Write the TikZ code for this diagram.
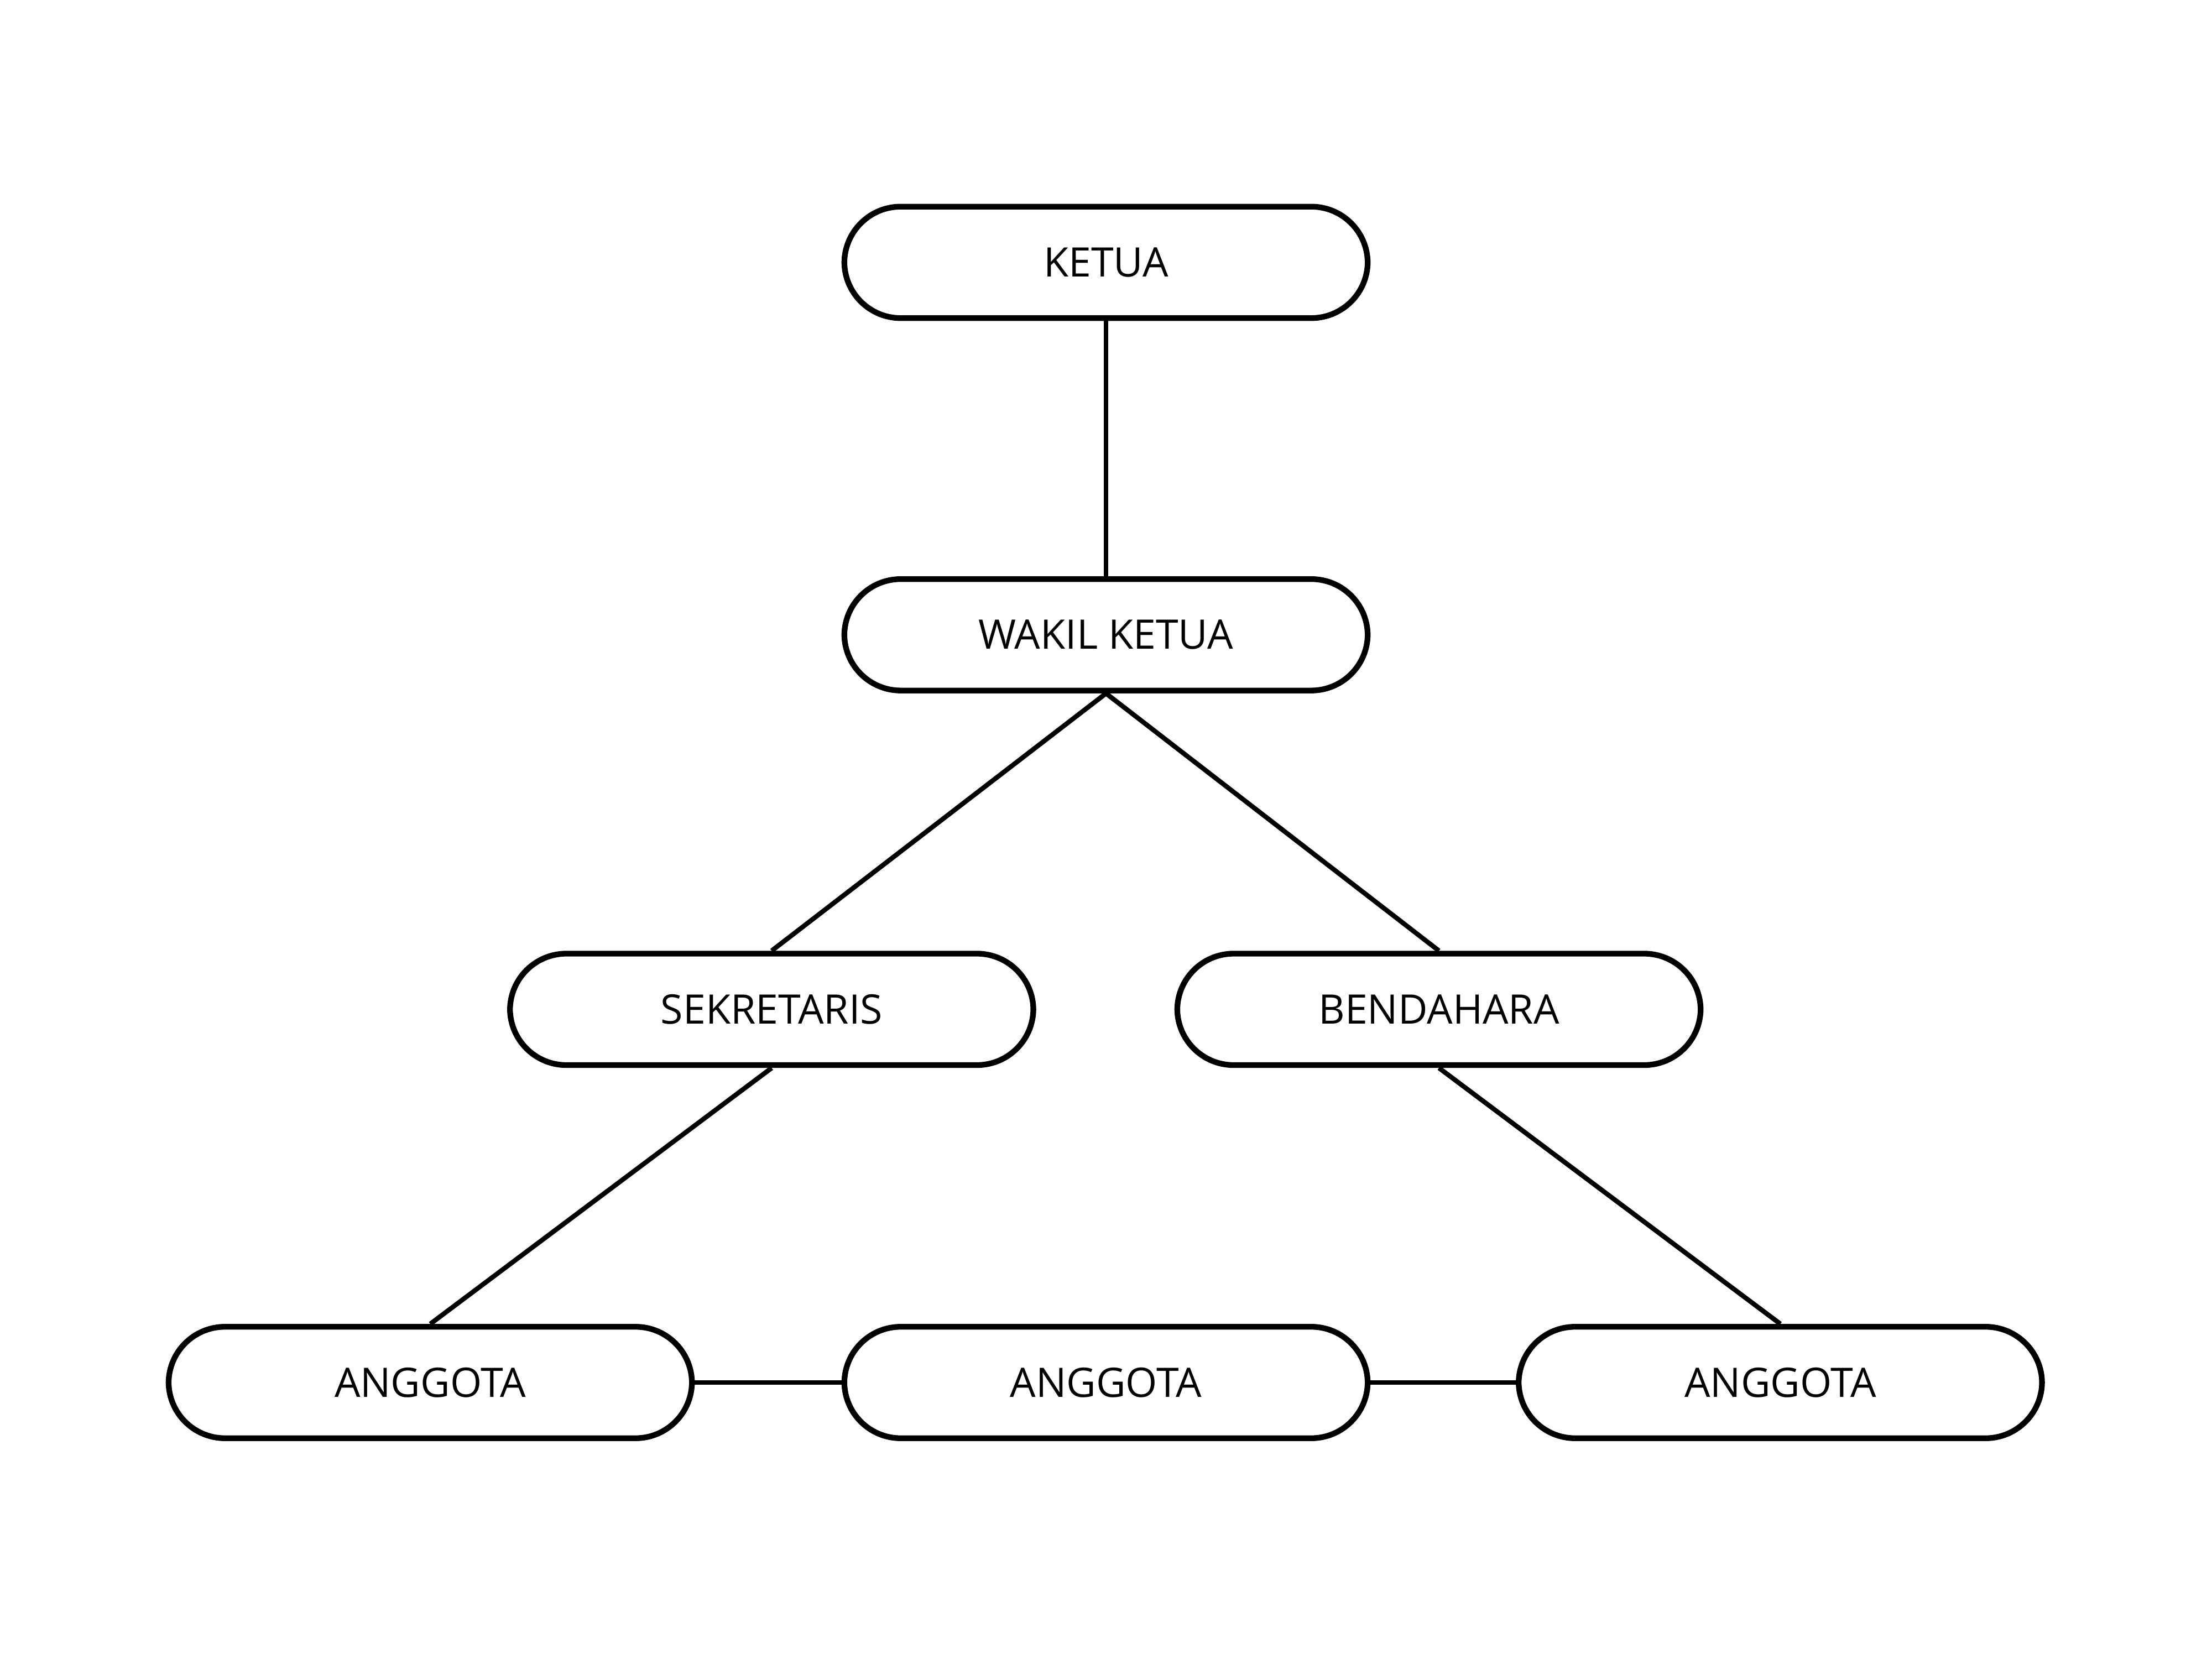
\documentclass[tikz,border=0pt]{standalone}
\usepackage{fontspec}
\setmainfont{Open Sans}
\begin{document}
\begin{tikzpicture}[
  box/.style={draw=black, line width=1.15pt, fill=white, rounded corners=0.40cm,
    minimum width=3.71cm, minimum height=0.79cm, inner sep=0pt,
    font=\fontsize{8.2pt}{10pt}\selectfont},
  link/.style={draw=black, line width=0.95pt}
]
\useasboundingbox (0,0) rectangle (15.68,-11.76);
\node[box] (ketua) at (7.84,-1.86) {KETUA};
\node[box] (wakil) at (7.84,-4.50) {WAKIL KETUA};
\node[box] (sek) at (5.47,-7.155) {SEKRETARIS};
\node[box] (ben) at (10.20,-7.155) {BENDAHARA};
\node[box] (a1) at (3.05,-9.80) {ANGGOTA};
\node[box] (a2) at (7.84,-9.80) {ANGGOTA};
\node[box] (a3) at (12.62,-9.80) {ANGGOTA};
\draw[link] (ketua.south) -- (wakil.north);
\draw[link] (wakil.south) -- (sek.north);
\draw[link] (wakil.south) -- (ben.north);
\draw[link] (sek.south) -- (a1.north);
\draw[link] (ben.south) -- (a3.north);
\draw[link] (a1.east) -- (a2.west);
\draw[link] (a2.east) -- (a3.west);
\end{tikzpicture}
\end{document}
